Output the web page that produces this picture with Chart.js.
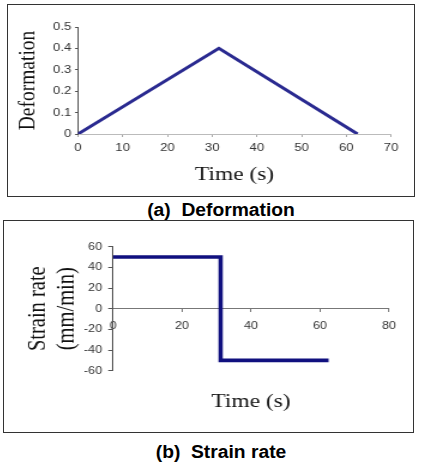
<!DOCTYPE html>
<html>
<head>
<meta charset="utf-8">
<script src="https://cdn.jsdelivr.net/npm/chart.js@4/dist/chart.umd.min.js"></script>
<style>
  html, body { margin: 0; padding: 0; background: #fff; }
  body { width: 422px; height: 462px; position: relative; overflow: hidden; }
  .box { position: absolute; border: 1px solid #333; box-sizing: border-box; }
  canvas { position: absolute; }
  .cap { position: absolute; left: 10px; width: 422px; text-align: center; white-space: pre;
         font-family: "Liberation Sans", Arial, sans-serif; font-weight: bold; font-size: 18px;
         color: #000; line-height: 20px; }
  .cap span { display: inline-block; transform: scaleX(1.07); }
</style>
</head>
<body>
<div class="box" style="left:7px;top:4px;width:408px;height:193px;"></div>
<canvas id="c1" width="338" height="190" style="left:8px;top:5px;width:405px;height:190px;"></canvas>
<div class="cap" style="top:200px;"><span>(a)  Deformation</span></div>

<div class="box" style="left:3px;top:220px;width:411px;height:213px;"></div>
<canvas id="c2" width="340" height="210" style="left:4px;top:221px;width:408px;height:210px;"></canvas>
<div class="cap" style="top:442px;"><span>(b)  Strain rate</span></div>

<script>
// ---- data (a) Deformation ----
const defTime = [0, 31.5, 62.5];
const deformation = [0, 0.4, 0];
const defXRange = [0, 70];
const defYRange = [0, 0.5];

// ---- data (b) Strain rate ----
const rateTime = [0, 31.2, 31.2, 62.5];
const strainRate = [50, 50, -50, -50];
const rateXRange = [0, 80];
const rateYRange = [-60, 60];

const sans = "'Liberation Sans', Arial, sans-serif";
const serif = "'Liberation Serif', 'Times New Roman', serif";

function pts(xs, ys) { return xs.map((x, i) => ({ x: x, y: ys[i] })); }

new Chart(document.getElementById('c1'), {
  type: 'line',
  data: {
    datasets: [{
      data: pts(defTime, deformation),
      borderColor: '#2a2a90',
      borderWidth: 3,
      pointRadius: 0,
      tension: 0,
      fill: false
    }]
  },
  options: {
    responsive: false,
    devicePixelRatio: 1,
    animation: false,
    layout: { padding: { left: 0, right: 18.3, top: 22, bottom: 0 } },
    plugins: { legend: { display: false }, tooltip: { enabled: false } },
    scales: {
      x: {
        type: 'linear',
        min: defXRange[0], max: defXRange[1],
        ticks: { stepSize: 10, color: '#333', font: { family: sans, size: 11 }, padding: 4, maxRotation: 0 },
        grid: { drawOnChartArea: false, tickLength: 3, color: '#aaa' },
        border: { color: '#bbb', width: 1 },
        title: { display: true, text: 'Time (s)', color: '#111',
                 font: { family: serif, size: 19.5 }, padding: { top: 0, bottom: 8.3 } },
        afterFit: (s) => { s.height = 61; }
      },
      y: {
        min: defYRange[0], max: defYRange[1],
        ticks: { stepSize: 0.1, color: '#333', font: { family: sans, size: 11 }, padding: 3 },
        grid: { drawOnChartArea: false, tickLength: 2.5, color: '#555' },
        border: { color: '#555', width: 1 },
        title: { display: true, text: 'Deformation', color: '#111',
                 font: { family: serif, size: 19.5 }, padding: { top: 5, bottom: 0 } },
        afterFit: (s) => { s.width = 58.4; }
      }
    }
  }
});

new Chart(document.getElementById('c2'), {
  type: 'line',
  data: {
    datasets: [{
      data: pts(rateTime, strainRate),
      borderColor: '#10107f',
      borderWidth: 3.6,
      borderJoinStyle: 'miter',
      borderCapStyle: 'butt',
      pointRadius: 0,
      tension: 0,
      fill: false
    }]
  },
  options: {
    responsive: false,
    devicePixelRatio: 1,
    animation: false,
    layout: { padding: { left: 0, right: 19.2, top: 25.7, bottom: 60.3 } },
    plugins: { legend: { display: false }, tooltip: { enabled: false } },
    scales: {
      x: {
        type: 'linear',
        position: { y: 0 },
        min: rateXRange[0], max: rateXRange[1],
        ticks: { stepSize: 20, color: '#333', font: { family: sans, size: 10.5 }, padding: 8, maxRotation: 0 },
        grid: { drawOnChartArea: false, tickLength: 3, color: '#777' },
        border: { color: '#777', width: 1 },
        title: { display: true, text: 'Time (s)', color: '#111',
                 font: { family: serif, size: 19.5 }, padding: { top: 0, bottom: 5.3 } },
        afterFit: (s) => { s.height = 110; }
      },
      y: {
        min: rateYRange[0], max: rateYRange[1],
        ticks: { stepSize: 20, color: '#333', font: { family: sans, size: 10.5 }, padding: 5 },
        grid: { drawOnChartArea: false, tickLength: 4, color: '#555' },
        border: { color: '#555', width: 1 },
        title: { display: true, text: ['Strain rate', '(mm/min)'], color: '#111',
                 font: { family: serif, size: 20.5, lineHeight: 1.13 }, padding: { top: 17.5, bottom: 0 } },
        afterFit: (s) => { s.width = 90.8; }
      }
    }
  }
});
</script>
</body>
</html>
